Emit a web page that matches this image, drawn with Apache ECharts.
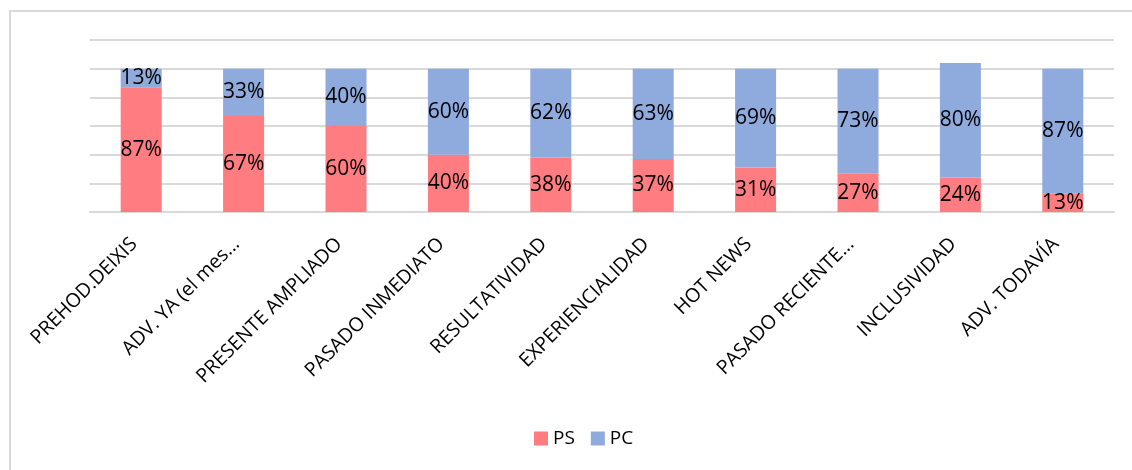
<!DOCTYPE html>
<html>
<head>
<meta charset="utf-8">
<script src="https://cdn.jsdelivr.net/npm/echarts@6/dist/echarts.min.js"></script>
<style>
  html, body { margin: 0; padding: 0; background: #fff; }
  #frame { position: absolute; left: 9px; top: 10px; width: 1200px; height: 600px; border: 2px solid #d9d9d9; box-sizing: border-box; }
  #chart { position: absolute; left: 0; top: 0; width: 1132px; height: 470px; }
</style>
</head>
<body>
<div id="frame"></div>
<div id="chart"></div>
<script>
const categories = ['PREHOD.DEIXIS', 'ADV. YA (el mes...', 'PRESENTE AMPLIADO', 'PASADO INMEDIATO', 'RESULTATIVIDAD', 'EXPERIENCIALIDAD', 'HOT NEWS', 'PASADO RECIENTE...', 'INCLUSIVIDAD', 'ADV. TODAVÍA'];
const psValues = [87, 67, 60, 40, 38, 37, 31, 27, 24, 13];
const pcValues = [13, 33, 40, 60, 62, 63, 69, 73, 80, 87];
const seriesNames = ['PS', 'PC'];

const chart = echarts.init(document.getElementById('chart'));
const labelStyle = {
  show: true,
  position: 'inside',
  formatter: p => p.value + '%',
  color: '#000',
  fontFamily: 'Open Sans',
  fontSize: 21
};
chart.setOption({
  animation: false,
  grid: { left: 90, right: 18, top: 40, bottom: 258 },
  legend: {
    data: seriesNames,
    bottom: 17,
    left: 529,
    itemWidth: 14,
    itemHeight: 14,
    itemGap: 16,
    textStyle: { fontFamily: 'Open Sans', fontSize: 19, color: '#000' },
    icon: 'rect'
  },
  xAxis: {
    type: 'category',
    data: categories,
    axisLine: { lineStyle: { color: '#d9d9d9', width: 2 } },
    axisTick: { show: false },
    axisLabel: {
      rotate: 45,
      interval: 0,
      margin: 22,
      padding: [0, 10, 0, 0],
      color: '#000',
      fontFamily: 'Open Sans',
      fontSize: 19.5
    }
  },
  yAxis: {
    type: 'value',
    min: 0,
    max: 120,
    interval: 20,
    axisLabel: { show: false },
    axisLine: { show: false },
    axisTick: { show: false },
    splitLine: { lineStyle: { color: '#d9d9d9', width: 2 } }
  },
  series: [
    {
      name: seriesNames[0],
      type: 'bar',
      stack: 'total',
      data: psValues,
      barWidth: 41,
      itemStyle: { color: '#FF7C80' },
      label: labelStyle
    },
    {
      name: seriesNames[1],
      type: 'bar',
      stack: 'total',
      data: pcValues,
      barWidth: 41,
      itemStyle: { color: '#8FAADC' },
      label: labelStyle
    }
  ]
});
</script>
</body>
</html>
